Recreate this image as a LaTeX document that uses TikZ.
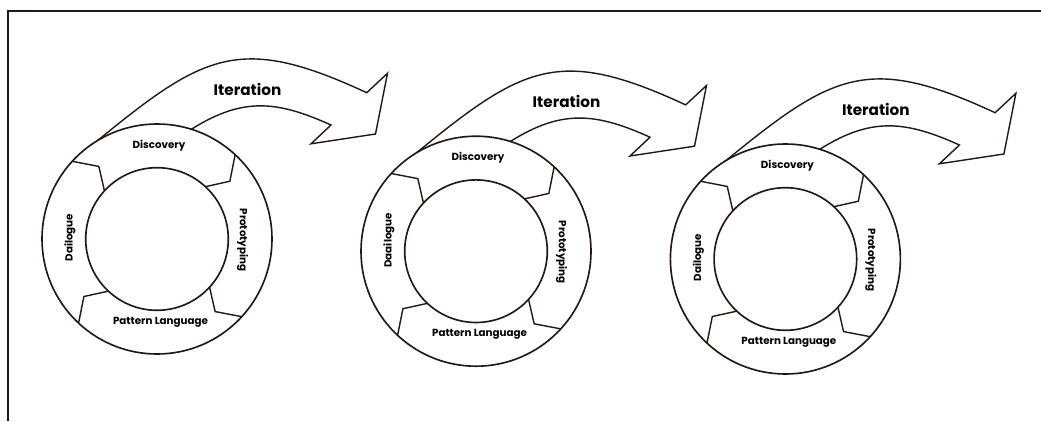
\documentclass[tikz,border=0pt]{standalone}
\usepackage{fontspec}
\setmainfont{Poppins}
\definecolor{ink}{HTML}{231815}

\tikzset{
  ring/.style={draw=ink, line width=1.4pt, fill=white},
  divider/.style={draw=ink, line width=1.2pt, line join=miter},
  arrowbody/.style={draw=ink, line width=1.2pt, fill=white, line join=miter},
  phase/.style={font=\bfseries\fontsize{8.8}{9}\selectfont, text=black, inner sep=0pt},
  itertext/.style={font=\bfseries\fontsize{13}{14}\selectfont, text=black, inner sep=0pt},
}

\begin{document}
\begin{tikzpicture}[x=0.03cm, y=0.03cm]
\useasboundingbox (0,0) rectangle (1041,-421);
% open frame: left and top edge only
\draw[ink, line width=1.5pt] (8,-421) -- (8,-11) -- (1041,-11);

\foreach \cx/\cy/\dname/\dy [count=\i] in {157/-239/Dailogue/1.5, 476/-251.2/Daailogue/10.9, 785.4/-259/Dailogue/1.5}{ %one cycle per iteration
\begin{scope}[shift={(\cx,\cy)}]
\coordinate (c\i) at (0,0);
% big curved arrow leaving the ring
\draw[arrowbody] (121:115) .. controls (48,186.5) and (84,204.7) .. (209.7,146.3)
  -- (230.5,165.7) -- (218.5,105) -- (154,95.2) -- (174,114)
  .. controls (119.9,138.4) and (85.8,142.1) .. (72.6:115) -- cycle;
\node[itertext] (iter\i) at (90.5,150) {Iteration};

% outer ring and hub
\draw[ring] (c\i) circle[radius=115];
\draw[ring] (c\i) circle[radius=71.3];
\foreach \a in {137.5,47.2,-42.5,227}{ %chevrons between the phases
\draw[divider] (\a:115) -- ({\a-8.8}:93) -- (\a:71.3);
}

\node[phase] (disc\i) at (2,93.5) {Discovery};
\node[phase, rotate=-90] (proto\i) at (85.5,-1) {Prototyping};
\node[phase] (pat\i) at (3.5,-83.5) {Pattern Language};
\node[phase, rotate=90] (dia\i) at (-87,\dy) {\dname};
\end{scope}
}

\end{tikzpicture}
\end{document}
